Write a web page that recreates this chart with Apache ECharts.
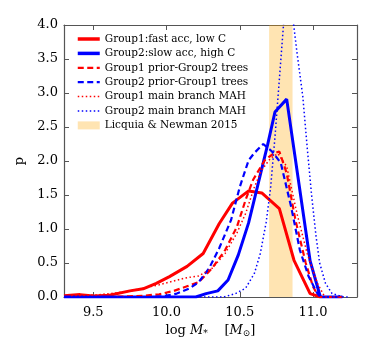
<!DOCTYPE html>
<html>
<head>
<meta charset="utf-8">
<script src="https://cdn.jsdelivr.net/npm/echarts@6/dist/echarts.min.js"></script>
<style>html,body{margin:0;padding:0;background:#fff}#c{width:374px;height:360px}</style>
</head>
<body>
<div id="c"></div>
<script>
// ---- data ----
var xTicks = [9.5, 10.0, 10.5, 11.0];
var yTicks = [0, 0.5, 1.0, 1.5, 2.0, 2.5, 3.0, 3.5, 4.0];
var bandRange = [10.70, 10.86];

var g1SolidX = [9.30, 9.41, 9.50, 9.61, 9.75, 9.84, 9.93, 10.02, 10.14, 10.25, 10.36, 10.45, 10.56, 10.65, 10.77, 10.87, 10.98, 11.05];
var g1SolidY = [0.02, 0.035, 0.015, 0.025, 0.09, 0.12, 0.20, 0.30, 0.45, 0.64, 1.08, 1.38, 1.56, 1.53, 1.30, 0.54, 0.05, 0.0];

var g2SolidX = [9.30, 10.20, 10.27, 10.35, 10.42, 10.49, 10.56, 10.62, 10.69, 10.74, 10.82, 10.90, 10.98, 11.05, 11.20];
var g2SolidY = [0, 0, 0.05, 0.09, 0.25, 0.62, 1.09, 1.62, 2.24, 2.72, 2.91, 1.72, 0.53, 0, 0];

var g1DashX = [9.60, 9.75, 9.85, 9.95, 10.05, 10.13, 10.22, 10.31, 10.40, 10.48, 10.54, 10.59, 10.67, 10.73, 10.77, 10.82, 10.88, 10.95, 11.00, 11.04, 11.20];
var g1DashY = [0, 0.01, 0.02, 0.04, 0.09, 0.15, 0.22, 0.42, 0.69, 1.03, 1.43, 1.72, 2.01, 2.11, 2.14, 1.82, 1.13, 0.50, 0.15, 0, 0];

var g2DashX = [9.60, 9.86, 9.97, 10.07, 10.16, 10.22, 10.29, 10.36, 10.44, 10.50, 10.56, 10.60, 10.66, 10.72, 10.78, 10.85, 10.91, 10.97, 11.03, 11.05, 11.20];
var g2DashY = [0, 0, 0.01, 0.05, 0.13, 0.22, 0.42, 0.72, 1.13, 1.62, 2.01, 2.12, 2.25, 2.14, 1.97, 1.33, 0.69, 0.30, 0.05, 0, 0];

var g1DotX = [9.35, 9.52, 9.61, 9.73, 9.84, 9.95, 10.04, 10.13, 10.22, 10.31, 10.40, 10.48, 10.54, 10.60, 10.65, 10.71, 10.76, 10.82, 10.89, 10.96, 11.03, 11.08, 11.20];
var g1DotY = [0.02, 0.03, 0.05, 0.08, 0.13, 0.18, 0.23, 0.28, 0.31, 0.42, 0.64, 0.94, 1.23, 1.62, 1.87, 2.04, 2.11, 1.92, 1.23, 0.64, 0.20, 0, 0];

var g2DotX = [9.30, 10.39, 10.47, 10.54, 10.60, 10.64, 10.68, 10.71, 10.74, 10.77, 10.80, 10.835, 10.865, 10.89, 10.93, 10.96, 10.99, 11.02, 11.045, 11.085, 11.13, 11.21, 11.25];
var g2DotY = [0, 0, 0.05, 0.13, 0.35, 0.64, 1.10, 1.60, 2.35, 3.20, 4.05, 4.20, 4.05, 3.60, 2.95, 2.20, 1.50, 0.90, 0.50, 0.20, 0.05, 0, 0];

var names = ['Group1:fast acc, low C', 'Group2:slow acc, high C', 'Group1 prior-Group2 trees',
             'Group2 prior-Group1 trees', 'Group1 main branch MAH', 'Group2 main branch MAH',
             'Licquia & Newman 2015'];

function pairs(xs, ys) { return xs.map(function (x, i) { return [x, ys[i]]; }); }

var FONT = 'DejaVu Serif';
var BAND = 'rgba(255,165,0,0.3)';
var chart = echarts.init(document.getElementById('c'), null, {renderer: 'canvas'});

var styles = [
  {color: '#ff0000', width: 3, type: 'solid'},
  {color: '#0000ff', width: 3, type: 'solid'},
  {color: '#ff0000', width: 2.2, type: [6, 3.5]},
  {color: '#0000ff', width: 2.2, type: [6, 3.5]},
  {color: '#ff0000', width: 1.5, type: [1.5, 2.5]},
  {color: '#0000ff', width: 1.5, type: [1.5, 2.5]}
];

function lineSeries(i, xs, ys) {
  var s = styles[i];
  return {
    name: names[i], type: 'line', data: pairs(xs, ys), symbol: 'none', z: 3 + i,
    itemStyle: {color: s.color},
    lineStyle: {color: s.color, width: s.width, type: s.type},
    clip: true, animation: false
  };
}

var axisCommon = {
  type: 'value', min: 9.3, max: 11.3,
  axisLine: {show: true, onZero: false, lineStyle: {color: '#555', width: 1.2}},
  splitLine: {show: false}
};

var option = {
  animation: false,
  backgroundColor: '#fff',
  grid: {left: 64, right: 17, top: 25, bottom: 63, containLabel: false},
  legend: {
    orient: 'vertical', left: 71, top: 28,
    itemWidth: 22, itemHeight: 8, itemGap: 2.4,
    itemStyle: {color: 'rgba(0,0,0,0)', borderColor: 'rgba(0,0,0,0)', borderWidth: 0},
    textStyle: {fontFamily: FONT, fontSize: 10.5, color: '#000', lineHeight: 12},
    data: names.slice(0, 6).map(function (n, i) {
      return {name: n, lineStyle: {color: styles[i].color, width: styles[i].width + (i < 2 ? 0.5 : 0), type: styles[i].type}};
    }).concat([
      {name: names[6], icon: 'rect', itemStyle: {color: BAND, borderWidth: 0}}
    ])
  },
  xAxis: [
    Object.assign({}, axisCommon, {
      position: 'bottom',
      name: '{n|log }{i|M}{s|*}{n|    [}{i|M}{s|⊙}{n|]}',
      nameLocation: 'middle', nameGap: 22,
      nameTextStyle: {
        rich: {
          n: {fontFamily: FONT, fontSize: 13, color: '#000', lineHeight: 16},
          i: {fontFamily: FONT, fontSize: 13, fontStyle: 'italic', color: '#000', lineHeight: 16},
          s: {fontFamily: FONT, fontSize: 9, color: '#000', verticalAlign: 'bottom', lineHeight: 10}
        }
      },
      axisTick: {show: true, inside: true, length: 5, customValues: xTicks, lineStyle: {color: '#555'}},
      axisLabel: {show: true, customValues: xTicks, margin: 9, fontFamily: FONT, fontSize: 13, color: '#000',
                  formatter: function (v) { return v.toFixed(1); }}
    }),
    Object.assign({}, axisCommon, {
      position: 'top',
      axisTick: {show: true, inside: true, length: 5, customValues: xTicks, lineStyle: {color: '#555'}},
      axisLabel: {show: false}
    })
  ],
  yAxis: [
    {
      type: 'value', min: 0, max: 4, interval: 0.5, position: 'left',
      name: 'p', nameLocation: 'middle', nameGap: 30,
      nameTextStyle: {fontFamily: FONT, fontSize: 13, color: '#000'},
      axisLine: {show: true, lineStyle: {color: '#555', width: 1.2}},
      axisTick: {show: true, inside: true, length: 5, lineStyle: {color: '#555'}},
      axisLabel: {fontFamily: FONT, fontSize: 13, color: '#000', margin: 6,
                  formatter: function (v) { return v.toFixed(1); }},
      splitLine: {show: false}
    },
    {
      type: 'value', min: 0, max: 4, interval: 0.5, position: 'right',
      axisLine: {show: true, lineStyle: {color: '#555', width: 1.2}},
      axisTick: {show: true, inside: true, length: 5, lineStyle: {color: '#555'}},
      axisLabel: {show: false},
      splitLine: {show: false}
    }
  ],
  series: [
    {
      name: names[6], type: 'line', data: [], symbol: 'none', z: 1,
      itemStyle: {color: BAND},
      lineStyle: {width: 0},
      markArea: {
        silent: true,
        itemStyle: {color: BAND},
        data: [[{xAxis: bandRange[0]}, {xAxis: bandRange[1]}]]
      }
    },
    lineSeries(0, g1SolidX, g1SolidY),
    lineSeries(1, g2SolidX, g2SolidY),
    lineSeries(2, g1DashX, g1DashY),
    lineSeries(3, g2DashX, g2DashY),
    lineSeries(4, g1DotX, g1DotY),
    lineSeries(5, g2DotX, g2DotY)
  ]
};
chart.setOption(option);
</script>
</body>
</html>
